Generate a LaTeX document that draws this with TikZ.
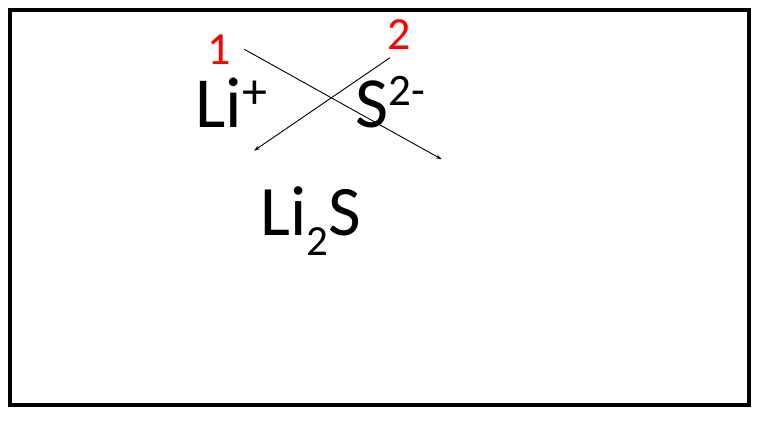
\documentclass[tikz,border=0pt]{standalone}
\usepackage{fontspec}
\setmainfont{Carlito}
\usetikzlibrary{arrows.meta}
\definecolor{numred}{RGB}{255,0,0}
\tikzset{
  chem/.style={anchor=base west, inner sep=0pt, text height=46pt, text depth=0pt, font=\fontsize{72}{72}\selectfont},
  chemb/.style={anchor=base west, inner sep=0pt, text height=44pt, font=\fontsize{71}{71}\selectfont},
  num/.style={anchor=center, inner sep=0pt, text height=29pt, text depth=0pt, text=numred, font=\fontsize{46}{46}\selectfont},
  cross/.style={line width=0.9pt, -{Stealth[length=6pt,width=4pt]}},
  frame/.style={line width=4pt}
}
\newcommand{\supp}[1]{\raisebox{18.5pt}{\fontsize{50}{50}\selectfont #1}}
\newcommand{\supx}[1]{\raisebox{21.3pt}{\fontsize{45}{45}\selectfont #1}}
\newcommand{\subx}[1]{\raisebox{-20pt}{\fontsize{43}{43}\selectfont #1}}
\begin{document}
\begin{tikzpicture}[x=1pt,y=-1pt]
\useasboundingbox (0,0) rectangle (770,427);
\draw[frame] (10,10) rectangle (749,405);
\node[chem] (li) at (195.5,127.3) {Li\supp{+}};
\node[chem] (s) at (355,127.3) {S\supx{2-}};
\node[chemb] (lis) at (260,235.5) {Li\subx{2}S};
\node[num] (n1) at (219,50) {1};
\node[num] (n2) at (398.8,34.7) {2};
\coordinate (a1) at (244.3,49.3);
\coordinate (b1) at (441.7,159.3);
\coordinate (a2) at (390,57.7);
\coordinate (b2) at (254,150.7);
\draw[cross] (a1) -- (b1);
\draw[cross] (a2) -- (b2);
\end{tikzpicture}
\end{document}
